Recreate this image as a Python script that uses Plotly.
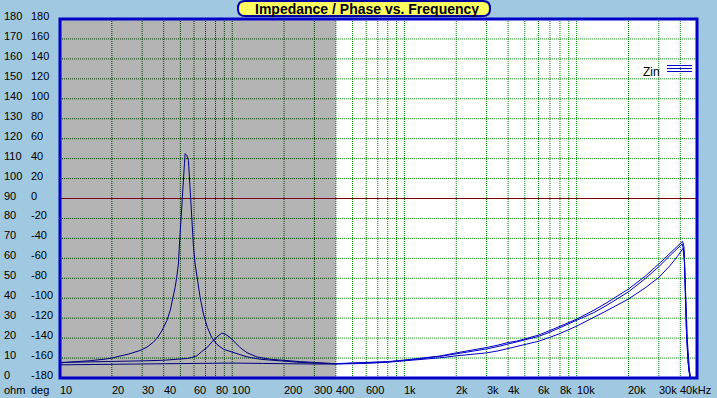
import math
import plotly.graph_objects as go

# ---------------- data (frequency in Hz, impedance in ohm) ----------------
# curve A : main resonance (~53 Hz)
freq_a_low = [10, 12, 15, 18, 20, 22.3, 25, 29.2, 32, 34.9, 37, 39, 41.7, 43.6, 45.2, 46.6,
              47.6, 48.7, 49.4, 49.9, 50.5, 51.2, 52.1, 52.8, 53.3, 54.5, 55.7, 56.5, 57.0,
              57.8, 58.8, 59.6, 60.9, 62.8, 65.1, 68.1, 71.8, 76.1, 81.4, 89, 101.8, 121.8,
              145.5, 190, 250, 300, 350, 400]
zin_a_low = [7.6, 8.0, 8.7, 9.4, 10.0, 11.0, 12.0, 13.8, 15.5, 18.0, 20.5, 23.6, 28.7, 33.7,
             39.6, 45.4, 50.4, 57.2, 67.2, 73.9, 84.0, 90.6, 99.0, 107.4, 112.5, 111.6, 109.1,
             99.0, 90.6, 84.0, 73.9, 65.5, 57.2, 48.8, 40.4, 32.0, 25.3, 20.3, 16.9, 14.4,
             12.7, 10.6, 9.4, 8.5, 7.8, 7.5, 7.3, 7.2]
freq_a_high = [400, 500, 600, 800, 1000, 1300, 1600, 2000, 2500, 3000, 3500, 4000, 4500, 5000,
               6000, 7000, 8000, 10000, 12600, 15000, 20000, 25000, 30000, 35000, 38500,
               41200, 42000, 42500, 43300, 44300, 45500]
zin_a_high = [7.2, 7.4, 7.6, 8.2, 9.0, 10.0, 11.0, 12.6, 14.0, 15.3, 16.5, 17.8, 18.5, 19.6,
              21.5, 23.8, 26.0, 29.5, 34.0, 37.8, 44.6, 51.0, 57.2, 62.8, 66.4,
              68.5, 66.0, 50.0, 25.0, 8.0, 0.0]

# curve B : secondary resonance (~87 Hz)
freq_b_low = [10, 15, 20, 30, 40, 50, 55, 58, 62.3, 66, 71.3, 77.8, 81.4, 87.1, 91, 97.3,
              104, 111.3, 121.8, 139, 166, 190, 250, 300, 400]
zin_b_low = [7.8, 8.0, 8.3, 8.6, 8.9, 9.3, 9.8, 10.3, 11.1, 13.0, 15.2, 18.9, 20.6, 22.5,
             22.0, 20.3, 17.7, 15.2, 12.7, 10.6, 9.4, 8.9, 8.2, 7.8, 7.1]
freq_b_high = [400, 600, 800, 1000, 1300, 1600, 2000, 2500, 3000, 3500, 4000, 4500, 5000,
               6000, 7000, 8000, 10000, 12600, 15000, 20000, 25000, 30000, 35000, 38500,
               41000, 42200, 42800, 43600, 44800, 45800]
zin_b_high = [7.1, 7.5, 8.1, 8.8, 9.8, 10.8, 12.1, 13.4, 14.6, 15.8, 17.0, 18.3, 19.0,
              20.8, 23.0, 25.3, 28.8, 32.8, 36.5, 43.2, 49.8, 55.8, 61.6, 65.2,
              67.2, 63.0, 45.0, 20.0, 4.0, 0.0]

# curve C : flat curve
freq_c_low = [10, 15, 20, 30, 40, 50, 70, 100, 150, 200, 300, 400]
zin_c_low = [6.6, 6.8, 6.9, 7.1, 7.3, 7.5, 7.6, 7.5, 7.3, 7.1, 7.0, 7.0]
freq_c_high = [400, 600, 800, 1000, 1300, 1600, 2000, 2500, 3000, 3500, 4000, 4500, 5000,
               6000, 7000, 8000, 10000, 12600, 15000, 20000, 25000, 30000, 35000, 38500,
               41500, 42300, 43000, 44000, 45200, 46000]
zin_c_high = [7.0, 7.3, 7.9, 8.5, 9.3, 10.1, 11.1, 11.9, 12.6, 13.6, 14.8, 15.6, 16.5,
              18.4, 20.4, 22.3, 26.0, 30.3, 33.8, 39.6, 45.2, 50.4, 56.5, 61.0,
              65.0, 58.0, 40.0, 18.0, 4.0, 0.0]

# tick labels
xtick_vals = [10, 20, 30, 40, 60, 80, 100, 200, 300, 400, 600, 1000, 2000, 3000, 4000,
              6000, 8000, 10000, 20000, 30000, 40000]
xtick_text = ["10", "20", "30", "40", "60", "80", "100", "200", "300", "400", "600", "1k",
              "2k", "3k", "4k", "6k", "8k", "10k", "20k", "30k", "40kHz"]
grid_freqs = [20, 30, 40, 50, 60, 70, 80, 90, 100, 200, 300, 400, 500, 600, 700, 800, 900,
              1000, 2000, 3000, 4000, 5000, 6000, 7000, 8000, 9000, 10000, 20000, 30000, 40000]
ohm_ticks = list(range(0, 181, 10))
deg_ticks = list(range(-180, 181, 20))
shade_end = 400

# ---------------- layout geometry ----------------
W, H = 717, 398
L, R, T, B = 60, 20, 19, 20
PW, PH = W - L - R, H - T - B


def px_x(px):
    return (px - L) / PW


def px_y(py):
    return (H - B - py) / PH


FONT = "Liberation Sans, Arial, sans-serif"
NAVY = "#000080"
BLUE = "#0000C8"
fig = go.Figure()

for f, z in [(freq_a_low, zin_a_low), (freq_b_low, zin_b_low), (freq_c_low, zin_c_low)]:
    fig.add_trace(go.Scatter(x=f, y=z, mode="lines", line=dict(color=NAVY, width=1),
                             hoverinfo="skip", showlegend=False))
for f, z in [(freq_a_high, zin_a_high), (freq_b_high, zin_b_high), (freq_c_high, zin_c_high)]:
    fig.add_trace(go.Scatter(x=f, y=z, mode="lines", line=dict(color=BLUE, width=1),
                             hoverinfo="skip", showlegend=False))

shapes = []
# shaded region
shapes.append(dict(type="rect", xref="x", yref="paper", x0=10, x1=shade_end, y0=0, y1=1,
                   fillcolor="#B4B4B4", line=dict(width=0), layer="below"))
DOT = "1px,1px"
# horizontal grid
for v in range(10, 180, 10):
    if v == 90:
        continue
    shapes.append(dict(type="line", xref="x", yref="y", x0=10, x1=shade_end, y0=v, y1=v,
                       line=dict(color="#004000", width=1, dash=DOT), layer="below"))
    shapes.append(dict(type="line", xref="x", yref="y", x0=shade_end, x1=50000, y0=v, y1=v,
                       line=dict(color="#008000", width=1, dash=DOT), layer="below"))
# vertical grid
for g in grid_freqs:
    col = "#004000" if g < shade_end else "#008000"
    shapes.append(dict(type="line", xref="x", yref="paper", x0=g, x1=g, y0=0, y1=1,
                       line=dict(color=col, width=1, dash=DOT), layer="below"))
# zero-phase line
shapes.append(dict(type="line", xref="paper", yref="y", x0=0, x1=1, y0=90, y1=90,
                   line=dict(color="#800000", width=1), layer="below"))
# frame
shapes.append(dict(type="rect", xref="paper", yref="paper", x0=0, x1=1, y0=0, y1=1,
                   line=dict(color=BLUE, width=3), layer="above"))
# legend symbol
for ly in (65.5, 68.5, 71.5):
    shapes.append(dict(type="line", xref="paper", yref="paper", x0=px_x(667), x1=px_x(692),
                       y0=px_y(ly), y1=px_y(ly), line=dict(color=BLUE, width=1), layer="above"))
# title box (rounded)
bx0, bx1, by0, by1, rr = 238, 490, 1, 16, 7
pts = lambda x, y: f"{px_x(x):.5f},{px_y(y):.5f}"
path = (f"M {pts(bx0 + rr, by0)} L {pts(bx1 - rr, by0)} Q {pts(bx1, by0)} {pts(bx1, by0 + rr)} "
        f"L {pts(bx1, by1 - rr)} Q {pts(bx1, by1)} {pts(bx1 - rr, by1)} "
        f"L {pts(bx0 + rr, by1)} Q {pts(bx0, by1)} {pts(bx0, by1 - rr)} "
        f"L {pts(bx0, by0 + rr)} Q {pts(bx0, by0)} {pts(bx0 + rr, by0)} Z")
shapes.append(dict(type="path", xref="paper", yref="paper", path=path, fillcolor="#FFFF60",
                   line=dict(color="#0000A0", width=2), layer="above"))

annotations = []
tick_font = dict(family=FONT, size=11, color="black")
for v in ohm_ticks:
    annotations.append(dict(xref="paper", yref="y", x=px_x(2), y=v, text=str(v), showarrow=False,
                            xanchor="left", yanchor="middle", yshift=3, font=tick_font))
for i, d in enumerate(deg_ticks):
    annotations.append(dict(xref="paper", yref="y", x=px_x(29), y=ohm_ticks[i], text=str(d),
                            showarrow=False, xanchor="left", yanchor="middle", yshift=3,
                            font=tick_font))
annotations.append(dict(xref="paper", yref="paper", x=px_x(2), y=px_y(390), text="ohm",
                        showarrow=False, xanchor="left", yanchor="middle", font=tick_font))
annotations.append(dict(xref="paper", yref="paper", x=px_x(29), y=px_y(390), text="deg",
                        showarrow=False, xanchor="left", yanchor="middle", font=tick_font))
for v, t in zip(xtick_vals, xtick_text):
    annotations.append(dict(xref="x", yref="paper", x=math.log10(v), y=px_y(390), text=t,
                            showarrow=False, xanchor="left", yanchor="middle", xshift=-2,
                            font=tick_font))
annotations.append(dict(xref="paper", yref="paper", x=px_x(641), y=px_y(71.5), text="Zin",
                        showarrow=False, xanchor="left", yanchor="middle",
                        font=dict(family=FONT, size=12, color="black")))
annotations.append(dict(xref="paper", yref="paper", x=px_x(367), y=px_y(8.5),
                        text="<b>Impedance / Phase vs. Frequency</b>", showarrow=False,
                        xanchor="center", yanchor="middle",
                        font=dict(family=FONT, size=14, color="black")))

fig.update_layout(
    width=W, height=H, autosize=False,
    margin=dict(l=L, r=R, t=T, b=B, pad=0),
    paper_bgcolor="#A0C8E0", plot_bgcolor="white",
    shapes=shapes, annotations=annotations, showlegend=False,
    xaxis=dict(type="log", range=[1, math.log10(50000)], showgrid=False, zeroline=False,
               showticklabels=False, ticks="", showline=False, fixedrange=True),
    yaxis=dict(range=[0, 180], showgrid=False, zeroline=False, showticklabels=False,
               ticks="", showline=False, fixedrange=True),
)

fig.write_html("out.html", config={"displayModeBar": False},
               post_script="document.body.style.margin='0';document.body.style.padding='0';"
                           "document.body.style.overflow='hidden';")
